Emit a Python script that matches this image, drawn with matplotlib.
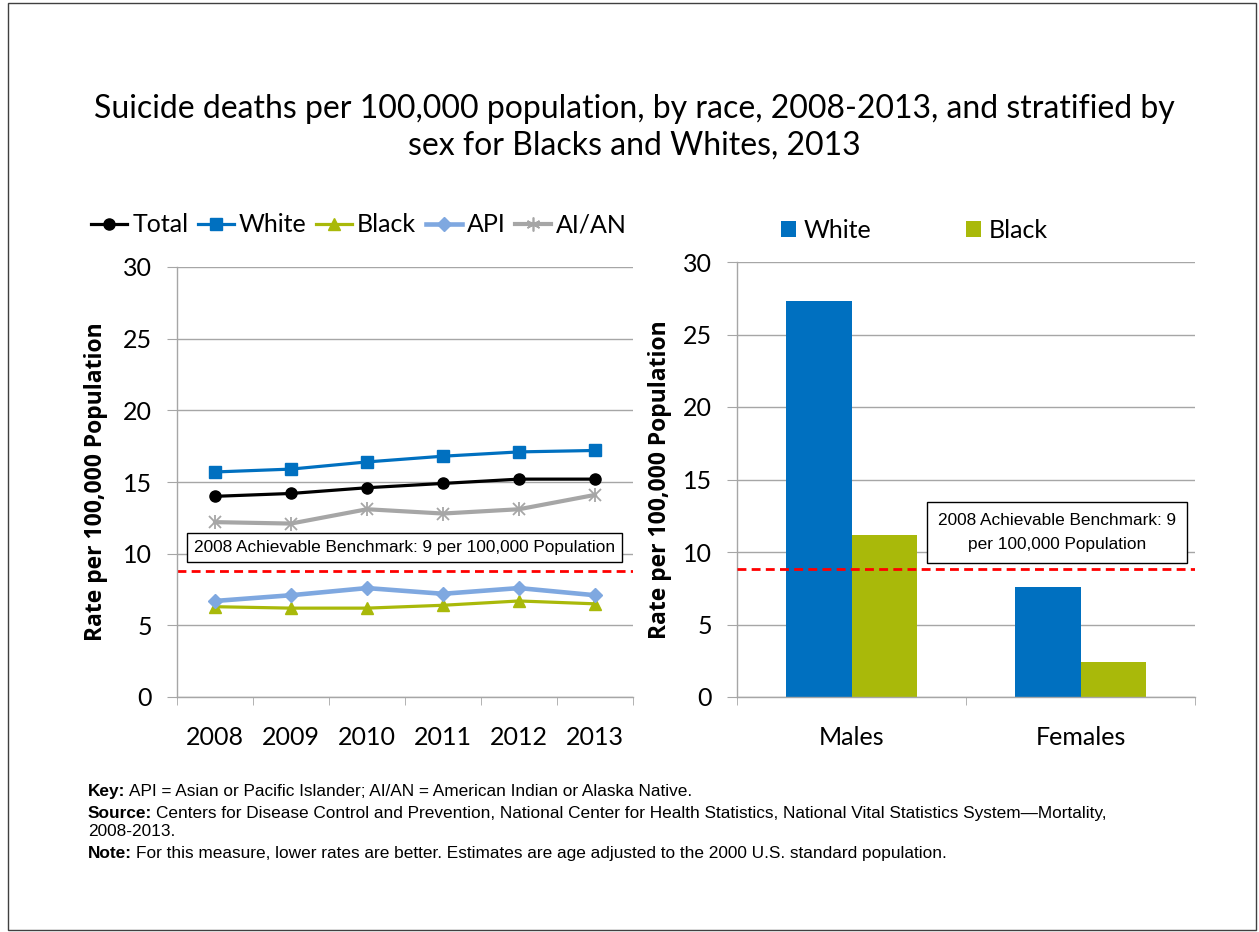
import matplotlib
matplotlib.use("Agg")
import matplotlib.pyplot as plt
from matplotlib.patches import Rectangle
from matplotlib.lines import Line2D
import numpy as np

plt.rcParams['font.family'] = ['Lato', 'DejaVu Sans']

# ---------------- data ----------------
years = ["2008", "2009", "2010", "2011", "2012", "2013"]
total = [14.0, 14.2, 14.6, 14.9, 15.2, 15.2]
white = [15.7, 15.9, 16.4, 16.8, 17.1, 17.2]
black = [6.3, 6.2, 6.2, 6.4, 6.7, 6.5]
api = [6.7, 7.1, 7.6, 7.2, 7.6, 7.1]
aian = [12.2, 12.1, 13.1, 12.8, 13.1, 14.1]

sex_groups = ["Males", "Females"]
white_sex = [27.3, 7.6]
black_sex = [11.2, 2.4]

benchmark = 8.8
yticks = [0, 5, 10, 15, 20, 25, 30]

title = ("Suicide deaths per 100,000 population, by race, 2008-2013, and stratified by\n"
         "sex for Blacks and Whites, 2013")
ylabel = "Rate per 100,000 Population"
bench_left = "2008 Achievable Benchmark: 9 per 100,000 Population"
bench_right = "2008 Achievable Benchmark: 9\nper 100,000 Population"

# ---------------- style ----------------
C_TOTAL = "#000000"
C_WHITE = "#0070C0"
C_BLACK = "#A9B90A"
C_API = "#7FA8E0"
C_AIAN = "#A6A6A6"
C_GRID = "#A6A6A6"
C_RED = "#FF0000"
DASH = (0, (3.2, 1.9))

W, H = 1259, 932
fig = plt.figure(figsize=(W / 100, H / 100), dpi=100)

def px_axes(x0, y0, x1, y1):
    return fig.add_axes([x0 / W, 1 - y1 / H, (x1 - x0) / W, (y1 - y0) / H])

# figure border
fig.patches.append(Rectangle((8 / W, 2 / H), (1256 - 8) / W, (929 - 2) / H,
                             transform=fig.transFigure, fill=False,
                             edgecolor="#404040", linewidth=1.0))

fig.text(634 / W, 1 - 127 / H, title, ha="center", va="center", fontsize=23,
         linespacing=1.28)

def style_axes(ax):
    ax.set_ylim(0, 30)
    ax.set_yticks(yticks)
    ax.yaxis.grid(True, color=C_GRID, linewidth=1.0)
    ax.set_axisbelow(True)
    for s in ["top", "right"]:
        ax.spines[s].set_visible(False)
    for s in ["left", "bottom"]:
        ax.spines[s].set_color(C_GRID)
        ax.spines[s].set_linewidth(1.0)
    ax.tick_params(axis="y", length=7, color=C_GRID, labelsize=18, pad=11)
    ax.tick_params(axis="x", which="major", length=0, labelsize=18, pad=21)
    ax.tick_params(axis="x", which="minor", length=6, color=C_GRID)
    ax.set_ylabel(ylabel, fontsize=16.5, fontweight="bold",
                  family=["Open Sans", "DejaVu Sans"])

# ---------------- left: lines ----------------
axL = px_axes(177, 267, 633, 697)
style_axes(axL)
x = np.arange(len(years))
axL.set_xlim(-0.5, len(years) - 0.5)
axL.set_xticks(x)
axL.set_xticklabels(years)
axL.set_xticks(np.arange(-0.5, len(years)), minor=True)

lw = 2.3
axL.plot(x, total, color=C_TOTAL, lw=lw, marker="o", ms=8, label="Total")
axL.plot(x, white, color=C_WHITE, lw=lw, marker="s", ms=9, label="White")
axL.plot(x, black, color=C_BLACK, lw=lw, marker="^", ms=9, label="Black")
axL.plot(x, api, color=C_API, lw=lw + 1, marker="D", ms=7.5, label="API")
axL.plot(x, aian, color=C_AIAN, lw=lw + 0.7, marker="x", ms=9, mew=1.3, label="AI/AN")
axL.plot(x, aian, color=C_AIAN, lw=0, marker="|", ms=10, mew=1.3)
axL.axhline(benchmark, color=C_RED, lw=2, ls=DASH)
axL.text(2.49, 10.43, bench_left, ha="center", va="center", fontsize=12.4,
         family=["Liberation Sans", "DejaVu Sans"],
         bbox=dict(boxstyle="square,pad=0.4", fc="white", ec="black", lw=1))
axL.yaxis.set_label_coords(-0.151, 0.5)

hL = [
    Line2D([], [], color=C_TOTAL, lw=lw, marker="o", ms=8),
    Line2D([], [], color=C_WHITE, lw=lw, marker="s", ms=8),
    Line2D([], [], color=C_BLACK, lw=lw, marker="^", ms=9),
    Line2D([], [], color=C_API, lw=lw + 1, marker="D", ms=7),
    Line2D([], [], color=C_AIAN, lw=lw + 0.7, marker=(6, 2, 0), ms=10, mew=1.2),
]
fig.legend(hL, ["Total", "White", "Black", "API", "AI/AN"], loc="center left",
           bbox_to_anchor=(91 / W, 1 - 225 / H), ncol=5, frameon=False,
           fontsize=18, handlelength=1.45, handletextpad=0.2, columnspacing=0.37,
           borderaxespad=0, borderpad=0)

# ---------------- right: bars ----------------
axR = px_axes(737, 262, 1195, 697)
style_axes(axR)
xs = np.arange(len(sex_groups))
bw = 0.285
axR.bar(xs - bw / 2, white_sex, bw, color=C_WHITE, label="White")
axR.bar(xs + bw / 2, black_sex, bw, color=C_BLACK, label="Black")
axR.set_xlim(-0.5, len(sex_groups) - 0.5)
axR.set_xticks(xs)
axR.set_xticklabels(sex_groups)
axR.set_xticks(np.arange(-0.5, len(sex_groups)), minor=True)
axR.axhline(benchmark, color=C_RED, lw=2, ls=DASH, zorder=3)
axR.text(0.897, 11.34, bench_right, ha="center", va="center", fontsize=12.4,
         family=["Liberation Sans", "DejaVu Sans"], linespacing=1.7,
         bbox=dict(boxstyle="square,pad=0.65", fc="white", ec="black", lw=1), zorder=4)
axR.yaxis.set_label_coords(-0.142, 0.5)
fig.legend(*axR.get_legend_handles_labels(), loc="center left",
           bbox_to_anchor=(781 / W, 1 - 230 / H), ncol=2, frameon=False,
           fontsize=18, handlelength=0.6, handleheight=0.6, handletextpad=0.3,
           columnspacing=3.8, borderaxespad=0, borderpad=0)

# ---------------- footnotes ----------------
fn_family = ["Liberation Sans Narrow", "Liberation Sans", "DejaVu Sans"]
fn_size = 12.4
notes = [
    (796, "Key:", "API = Asian or Pacific Islander; AI/AN = American Indian or Alaska Native."),
    (818, "Source:", "Centers for Disease Control and Prevention, National Center for Health Statistics, National Vital Statistics System\u2014Mortality,"),
    (836, "", "2008-2013."),
    (858, "Note:", "For this measure, lower rates are better. Estimates are age adjusted to the 2000 U.S. standard population."),
]
fig.canvas.draw()
renderer = fig.canvas.get_renderer()
for ypx, bold, rest in notes:
    xstart = 88 / W
    if bold:
        t = fig.text(88 / W, 1 - ypx / H, bold, fontsize=fn_size, fontweight="bold",
                     family=fn_family, va="baseline", ha="left")
        bb = t.get_window_extent(renderer=renderer)
        xstart = (bb.x1 + 4) / W
    fig.text(xstart, 1 - ypx / H, rest, fontsize=fn_size, family=fn_family,
             va="baseline", ha="left")

fig.savefig("out.png", dpi=100)
